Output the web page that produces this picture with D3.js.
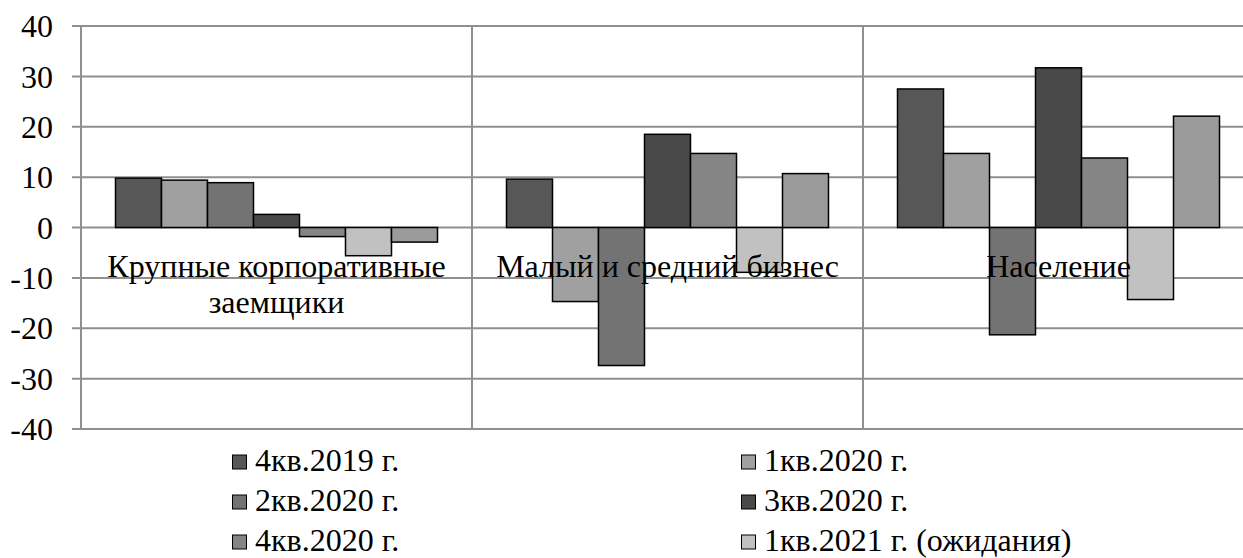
<!DOCTYPE html>
<html>
<head>
<meta charset="utf-8">
<script src="https://cdn.jsdelivr.net/npm/d3@7"></script>
<style>
  text { font-family: 'Liberation Serif', 'Times New Roman', Times, serif; }
</style>
</head>
<body style="margin:0;background:#fff">
<svg id="chart" width="1243" height="558" font-family="Liberation Serif, Times New Roman, serif"></svg>
<script>
// Borrower segments (x-axis groups)
const categories = ["Крупные корпоративные заемщики", "Малый и средний бизнес", "Население"];

// Survey periods, one bar each per segment
const seriesNames = [
  "4кв.2019 г.",
  "1кв.2020 г.",
  "2кв.2020 г.",
  "3кв.2020 г.",
  "4кв.2020 г.",
  "1кв.2021 г. (ожидания)",
  "2кв.2021 г. (ожидания)"
];

// Values per series, in the order of categories
const s4q2019 = [9.8, 9.6, 27.5];
const s1q2020 = [9.4, -14.7, 14.7];
const s2q2020 = [8.9, -27.4, -21.3];
const s3q2020 = [2.6, 18.5, 31.7];
const s4q2020 = [-1.8, 14.7, 13.8];
const s1q2021 = [-5.6, -8.9, -14.3];
const s2q2021 = [-2.9, 10.7, 22.1];

const seriesValues = [s4q2019, s1q2020, s2q2020, s3q2020, s4q2020, s1q2021, s2q2021];
const seriesColors = ["#575757", "#a0a0a0", "#737373", "#494949", "#858585", "#c1c1c1", "#9b9b9b"];

const yTicks = [-40, -30, -20, -10, 0, 10, 20, 30, 40];
const legendShown = 6;

const FONT_SIZE = 32;

const svg = d3.select("#chart");

const plotLeft = 81, plotTop = 26, plotBottom = 429;
const groupWidth = 391;

const x0 = d3.scaleBand()
  .domain(categories)
  .range([plotLeft, plotLeft + groupWidth * categories.length])
  .paddingInner(0).paddingOuter(0);

const x1 = d3.scaleBand()
  .domain(d3.range(seriesNames.length))
  .range([0, x0.bandwidth()])
  .paddingInner(0).paddingOuter(0.75);

const y = d3.scaleLinear().domain([-40, 40]).range([plotBottom, plotTop]);

const gridColor = "#8f8f8f";

// horizontal gridlines with short ticks to the left of the axis
svg.append("g")
  .selectAll("line")
  .data(yTicks)
  .join("line")
  .attr("x1", plotLeft - 9)
  .attr("x2", 1243)
  .attr("y1", d => y(d))
  .attr("y2", d => y(d))
  .attr("stroke", gridColor)
  .attr("stroke-width", 2);

// vertical axis and category separators
const seps = [plotLeft].concat(categories.map(c => x0(c) + x0.bandwidth()));
svg.append("g")
  .selectAll("line")
  .data(seps)
  .join("line")
  .attr("x1", d => d).attr("x2", d => d)
  .attr("y1", plotTop).attr("y2", plotBottom)
  .attr("stroke", gridColor)
  .attr("stroke-width", 2);

// y-axis labels
svg.append("g")
  .selectAll("text")
  .data(yTicks)
  .join("text")
  .attr("x", 53)
  .attr("y", d => y(d))
  .attr("dy", "0.35em")
  .attr("text-anchor", "end")
  .attr("font-size", FONT_SIZE)
  .attr("fill", "#000")
  .text(d => d);

// bars
const groups = svg.append("g")
  .selectAll("g")
  .data(categories)
  .join("g")
  .attr("transform", c => `translate(${x0(c)},0)`);

groups.selectAll("rect")
  .data((c, ci) => seriesValues.map((vals, si) => ({ si, v: vals[ci] })))
  .join("rect")
  .attr("x", d => x1(d.si))
  .attr("width", x1.bandwidth())
  .attr("y", d => y(Math.max(0, d.v)))
  .attr("height", d => Math.abs(y(d.v) - y(0)))
  .attr("fill", d => seriesColors[d.si])
  .attr("stroke", "#000")
  .attr("stroke-width", 1.5);

// category labels, drawn over the bars
const catLines = [["Крупные корпоративные", "заемщики"], ["Малый и средний бизнес"], ["Население"]];
svg.append("g")
  .selectAll("text")
  .data(categories)
  .join("text")
  .attr("x", c => x0(c) + x0.bandwidth() / 2)
  .attr("y", 277)
  .attr("text-anchor", "middle")
  .attr("font-size", FONT_SIZE)
  .attr("fill", "#000")
  .each(function (c, i) {
    d3.select(this).selectAll("tspan")
      .data(catLines[i])
      .join("tspan")
      .attr("x", x0(c) + x0.bandwidth() / 2)
      .attr("dy", (d, j) => j === 0 ? 0 : 36)
      .text(d => d);
  });

// legend: two columns, three rows
const legendCols = [232, 741];
const legendRows = [471, 511, 551];
const legend = svg.append("g")
  .selectAll("g")
  .data(seriesNames.slice(0, legendShown))
  .join("g")
  .attr("transform", (d, i) => `translate(${legendCols[i % 2]},${legendRows[Math.floor(i / 2)]})`);

legend.append("rect")
  .attr("x", 0.5).attr("y", -16)
  .attr("width", 14).attr("height", 14)
  .attr("fill", (d, i) => seriesColors[i])
  .attr("stroke", "#000")
  .attr("stroke-width", 1);

legend.append("text")
  .attr("x", 23)
  .attr("font-size", FONT_SIZE)
  .attr("fill", "#000")
  .text(d => d);
</script>
</body>
</html>
